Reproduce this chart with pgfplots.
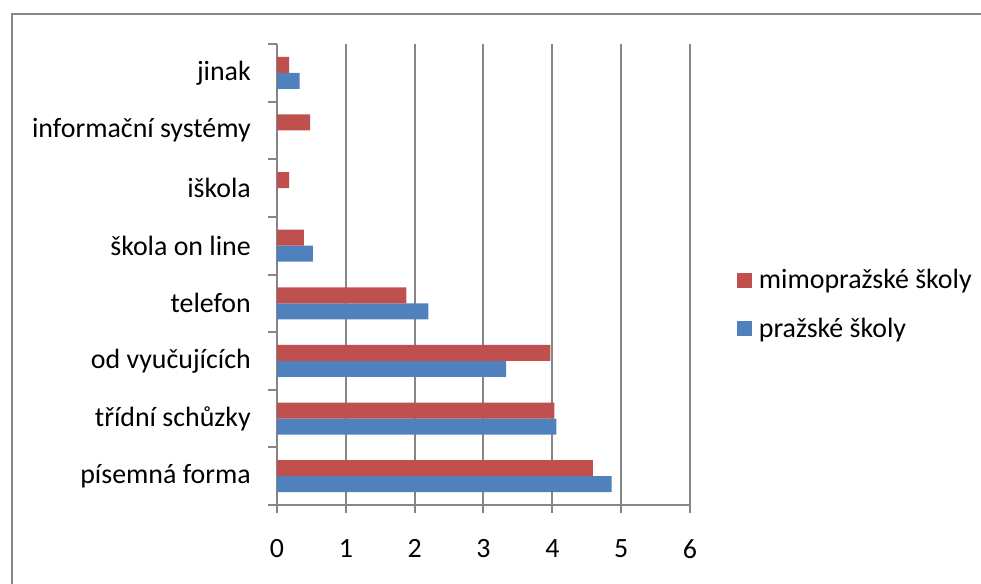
\documentclass[border=0pt]{standalone}
\usepackage{fontspec}
\setmainfont{Carlito}
\usepackage{pgfplots}
\pgfplotsset{compat=1.18}
\definecolor{xlred}{HTML}{C0504D}
\definecolor{xlblue}{HTML}{4F81BD}
\definecolor{xlgray}{HTML}{868686}
\begin{document}
\begin{tikzpicture}
\begin{axis}[
    at={(277bp,79bp)}, anchor=south west,
    scale only axis,
    width=413bp, height=461bp,
    xbar,
    font=\fontsize{28}{33}\selectfont,
    xmin=0, xmax=6,
    ymin=-0.5, ymax=7.5,
    xtick={0,1,...,6},
    ytick={0,...,7},
    yticklabels={písemná forma,třídní schůzky,od vyučujících,telefon,škola on line,iškola,informační systémy,jinak},
    minor ytick={-0.5,0.5,...,7.5},
    axis x line*=bottom, axis y line*=left,
    axis line style={xlgray, line width=2bp, -},
    tick align=outside,
    major tick length=8bp, minor tick length=9bp,
    every major y tick/.style={draw=none},
    every minor y tick/.style={xlgray, line width=2bp},
    every major x tick/.style={xlgray, line width=2bp},
    xmajorgrids,
    major grid style={xlgray, line width=2bp},
    yticklabel style={inner sep=0pt, xshift=-18bp},
    xticklabel style={inner sep=0pt, yshift=-26bp},
    /pgf/number format/assume math mode=true,
    bar width=16bp,
    legend style={draw=none, fill=none, at={(1.113,0.435)}, anchor=west,
        font=\fontsize{28}{33}\selectfont, row sep=24bp, inner sep=0pt,
        cells={anchor=west}},
    legend image code/.code={\fill[#1,draw=none] (0bp,-7.5bp) rectangle (15bp,7.5bp);
        \path (20bp,0bp);},
    reverse legend,
]
\addplot[fill=xlblue, draw=none, bar shift=-8bp] coordinates {
    (4.86,0) (4.06,1) (3.33,2) (2.20,3) (0.52,4) (0,5) (0,6) (0.33,7)};
\addlegendentry{pražské školy}
\addplot[fill=xlred, draw=none, bar shift=8bp] coordinates {
    (4.59,0) (4.03,1) (3.97,2) (1.88,3) (0.39,4) (0.175,5) (0.48,6) (0.175,7)};
\addlegendentry{mimopražské školy}
\end{axis}
\draw[xlgray, line width=2bp] (11.5bp,0bp) -- (11.5bp,569.5bp) -- (981bp,569.5bp);
\pgfresetboundingbox
\path[use as bounding box] (0bp,0bp) rectangle (981bp,584bp);
\end{tikzpicture}
\end{document}
